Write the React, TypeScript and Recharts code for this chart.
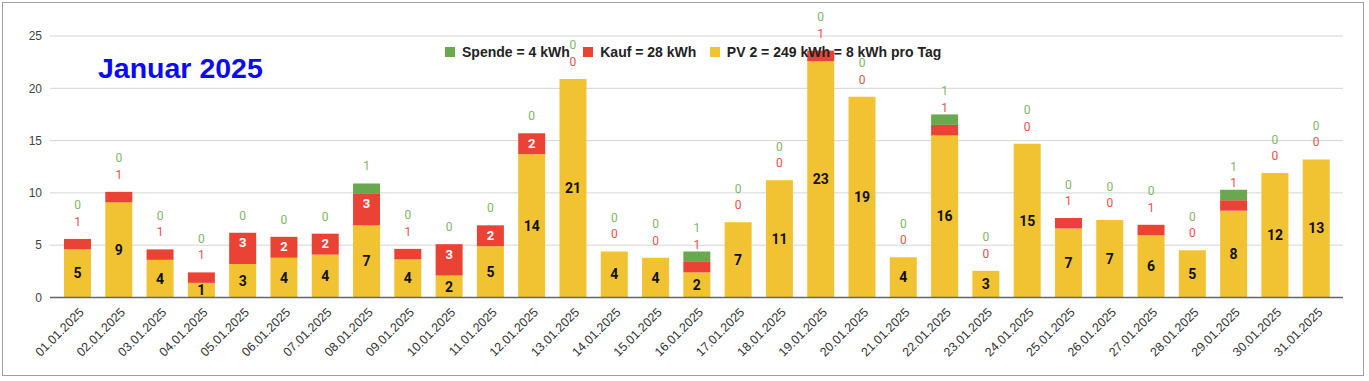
import React from 'react';
import { BarChart, Bar, XAxis, YAxis, CartesianGrid, LabelList, Legend } from 'recharts';

const dates = [
  '01.01.2025', '02.01.2025', '03.01.2025', '04.01.2025', '05.01.2025', '06.01.2025', '07.01.2025',
  '08.01.2025', '09.01.2025', '10.01.2025', '11.01.2025', '12.01.2025', '13.01.2025', '14.01.2025',
  '15.01.2025', '16.01.2025', '17.01.2025', '18.01.2025', '19.01.2025', '20.01.2025', '21.01.2025',
  '22.01.2025', '23.01.2025', '24.01.2025', '25.01.2025', '26.01.2025', '27.01.2025', '28.01.2025',
  '29.01.2025', '30.01.2025', '31.01.2025',
];

const pvValues = [
  4.6, 9.1, 3.6, 1.4, 3.2, 3.8, 4.1, 6.9, 3.65, 2.1, 4.9, 13.7, 20.9, 4.4, 3.8, 2.4,
  7.2, 11.2, 22.6, 19.2, 3.85, 15.5, 2.55, 14.7, 6.6, 7.4, 5.95, 4.52, 8.3, 11.9, 13.2,
];

const kaufValues = [
  1, 1, 1, 1, 3, 2, 2, 3, 1, 3, 2, 2, 0, 0, 0, 1,
  0, 0, 1, 0, 0, 1, 0, 0, 1, 0, 1, 0, 1, 0, 0,
];

const spendeValues = [
  0, 0, 0, 0, 0, 0, 0, 1, 0, 0, 0, 0, 0, 0, 0, 1,
  0, 0, 0, 0, 0, 1, 0, 0, 0, 0, 0, 0, 1, 0, 0,
];

const yTicks = [0, 5, 10, 15, 20, 25];

const chartTitle = 'Januar 2025';
const legendLabels = {
  spende: 'Spende = 4 kWh',
  kauf: 'Kauf = 28 kWh',
  pv: 'PV 2 = 249 kWh = 8 kWh pro Tag',
};
const legendOrder = ['spende', 'kauf', 'pv'];

const COLORS: Record<string, string> = {
  pv: '#f1c232',
  kauf: '#ea4335',
  spende: '#6aa84f',
};
const LABEL_COLORS: Record<string, string> = {
  kauf: '#ee5048',
  spende: '#7fb565',
};

const AXIS_FONT = '"Liberation Sans", Arial, sans-serif';
const LABEL_FONT = 'Roboto, "Liberation Sans", Arial, sans-serif';

const data = dates.map((d, i) => ({
  date: d,
  pv: pvValues[i],
  kauf: kaufValues[i],
  spende: spendeValues[i],
}));

function box(props: any) {
  const vb = props.viewBox || {};
  return {
    x: Number(props.x ?? vb.x),
    y: Number(props.y ?? vb.y),
    width: Number(props.width ?? vb.width),
    height: Number(props.height ?? vb.height),
  };
}

const OUT_GAP = 17;
const STACK_GAP = 16.5;

// All labels of one day, positioned from the PV segment rect (scale = height / value).
const DayLabels = (props: any) => {
  const { x, y, width, height } = box(props);
  const idx = props.index;
  const pv = pvValues[idx];
  const kauf = kaufValues[idx];
  const spende = spendeValues[idx];
  const ppu = height / pv;
  const cx = x + width / 2;
  const redTop = y - kauf * ppu;
  const greenTop = redTop - spende * ppu;
  const redInside = kauf >= 2;
  const redLabelY = redInside ? redTop + 10 : redTop - OUT_GAP;
  let greenLabelY = greenTop - OUT_GAP;
  if (!redInside) greenLabelY = Math.min(greenLabelY, redLabelY - STACK_GAP);
  return (
    <g>
      <text
        x={cx}
        y={y + height / 2}
        textAnchor="middle"
        dominantBaseline="central"
        fontFamily={LABEL_FONT}
        fontWeight="bold"
        fontSize={14}
        fill="#111"
      >
        {Math.round(pv)}
      </text>
      <text
        x={cx}
        y={redLabelY}
        textAnchor="middle"
        dominantBaseline="central"
        fontFamily={LABEL_FONT}
        fontWeight={redInside ? 'bold' : 'normal'}
        fontSize={redInside ? 13 : 12}
        fill={redInside ? '#ffffff' : LABEL_COLORS.kauf}
      >
        {kauf}
      </text>
      <text
        x={cx}
        y={greenLabelY}
        textAnchor="middle"
        dominantBaseline="central"
        fontFamily={LABEL_FONT}
        fontSize={12}
        fill={LABEL_COLORS.spende}
      >
        {spende}
      </text>
    </g>
  );
};

const XTick = (props: any) => {
  const { x, y, payload } = props;
  const tx = x + 7;
  const ty = y + 15.5;
  return (
    <text
      x={tx}
      y={ty}
      transform={`rotate(-45, ${tx}, ${ty})`}
      textAnchor="end"
      fontFamily={AXIS_FONT}
      fontSize={12.5}
      fill="#333"
    >
      {payload.value}
    </text>
  );
};

const renderLegend = () => (
  <div style={{ display: 'flex', alignItems: 'center', whiteSpace: 'nowrap' }}>
    {legendOrder.map((k) => (
      <div key={k} style={{ display: 'flex', alignItems: 'center', marginRight: 13.5 }}>
        <div style={{ width: 10, height: 10, background: COLORS[k], marginRight: 7 }} />
        <span
          style={{
            fontFamily: AXIS_FONT,
            fontWeight: 'bold',
            fontSize: 14,
            lineHeight: '14px',
            color: '#222',
          }}
        >
          {(legendLabels as any)[k]}
        </span>
      </div>
    ))}
  </div>
);

const X_PADDING = { left: 7, right: 6 };

export default function App() {
  return (
    <div
      style={{
        position: 'absolute',
        left: 0,
        top: 0,
        width: 1369,
        height: 381,
        background: '#ffffff',
        overflow: 'hidden',
      }}
    >
      <div
        style={{
          position: 'absolute',
          left: 2,
          top: 2,
          width: 1362,
          height: 374,
          border: '1px solid #a0a0a0',
          boxSizing: 'border-box',
        }}
      />
      <div style={{ position: 'absolute', left: 0, top: 0 }}>
        <BarChart
          width={1369}
          height={381}
          data={data}
          margin={{ top: 36, right: 26, left: 0, bottom: 3.5 }}
          barSize={27}
        >
          <CartesianGrid vertical={false} stroke="#d4d4d4" />
          <XAxis
            dataKey="date"
            height={80}
            padding={X_PADDING}
            interval={0}
            tickLine={false}
            tickSize={0}
            tickMargin={0}
            axisLine={{ stroke: '#666', strokeWidth: 1.5 }}
            tick={<XTick />}
          />
          <XAxis xAxisId="labels" dataKey="date" hide padding={X_PADDING} />
          <YAxis
            width={50}
            domain={[0, 25]}
            ticks={yTicks}
            interval={0}
            tickLine={false}
            axisLine={false}
            tick={{ fill: '#444', fontSize: 12, fontFamily: AXIS_FONT }}
          />
          <Legend
            layout="horizontal"
            verticalAlign="middle"
            align="center"
            content={renderLegend}
            wrapperStyle={{ top: 45, left: 445, width: 'auto', height: 'auto' }}
          />
          <Bar dataKey="pv" stackId="a" fill={COLORS.pv} isAnimationActive={false} />
          <Bar dataKey="kauf" stackId="a" fill={COLORS.kauf} isAnimationActive={false} />
          <Bar dataKey="spende" stackId="a" fill={COLORS.spende} isAnimationActive={false} />
          <Bar
            xAxisId="labels"
            dataKey="pv"
            fill="transparent"
            legendType="none"
            isAnimationActive={false}
          >
            <LabelList dataKey="pv" content={DayLabels} />
          </Bar>
        </BarChart>
      </div>
      <div
        style={{
          position: 'absolute',
          left: 98,
          top: 53.6,
          fontFamily: AXIS_FONT,
          fontWeight: 'bold',
          fontSize: 28.5,
          lineHeight: '28.5px',
          color: '#0a0af5',
          whiteSpace: 'nowrap',
        }}
      >
        {chartTitle}
      </div>
    </div>
  );
}
